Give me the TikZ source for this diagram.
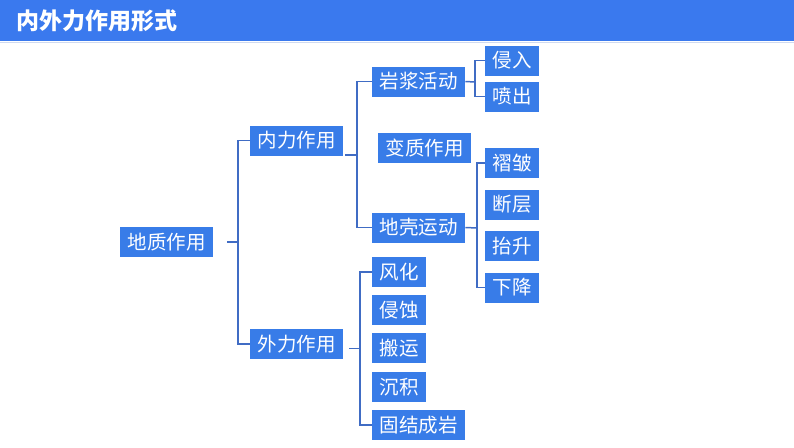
\documentclass[tikz,border=0pt]{standalone}
\usepackage{fontspec}
\newfontfamily\cjk{Noto Sans CJK SC}
\definecolor{barblue}{RGB}{58,121,238}
\definecolor{boxblue}{RGB}{56,124,232}
\definecolor{lineblue}{RGB}{64,108,196}
\begin{document}
\begin{tikzpicture}[x=1pt, y=-1pt,
	box/.style = {fill=boxblue, text=white, font=\cjk\fontsize{19.5}{19.5}\selectfont,
		minimum height=30pt, inner xsep=7.5pt, inner ysep=0pt, anchor=west},
	link/.style = {draw=lineblue, line width=1.5pt}]

	\useasboundingbox (0,0) rectangle (794,447);

	% title bar
	\fill [barblue] (0,0) rectangle (794,41);
	\draw [lineblue!25, line width=1pt] (0,42) -- (794,42);
	\node [anchor=west, text=white, font=\cjk\bfseries\fontsize{23}{23}\selectfont, inner sep=0pt] (title) at (16,20.5) {内外力作用形式};

	\node [box] (dz) at (120,242) {地质作用};
	\node [box] (nl) at (250,140.5) {内力作用};
	\node [box] (wl) at (250,344) {外力作用};

	\node [box] (yj) at (372,81.5) {岩浆活动};
	\node [box] (bz) at (378,148) {变质作用};
	\node [box] (dk) at (372,227.5) {地壳运动};

	\foreach \name/\txt/\y in {qr/侵入/60.5, pc/喷出/96.5, zz/褶皱/163, dc/断层/204.5, ts/抬升/246, xj/下降/287.5}
		\node [box] (\name) at (485,\y) {\txt};

	\foreach \name/\txt/\y in {fh/风化/272, qs/侵蚀/310, by/搬运/348, cj/沉积/387, gj/固结成岩/425}
		\node [box] (\name) at (372,\y) {\txt};

	\coordinate (r) at (238,242);
	\coordinate (n) at (357,155);
	\coordinate (w) at (360,348.5);
	\coordinate (m) at (475,82);
	\coordinate (k) at (477,228);

	\draw [link] ([xshift=14pt]dz.east) -- (r);
	\draw [link] (nl.west) -| (r) |- (wl.west);

	\draw [link] ([xshift=2pt]nl.east |- n) -- (n);
	\draw [link] (yj.west) -| (n) |- (dk.west);

	\draw [link] ([xshift=6pt]wl.east |- w) -- (w);
	\draw [link] (fh.west) -| (w) |- (gj.west);

	\draw [link] (yj.east) -- (m);
	\draw [link] (qr.west) -| (m) |- (pc.west);

	\draw [link] (dk.east) -- (k);
	\draw [link] (zz.west) -| (k) |- (xj.west);

\end{tikzpicture}
\end{document}
